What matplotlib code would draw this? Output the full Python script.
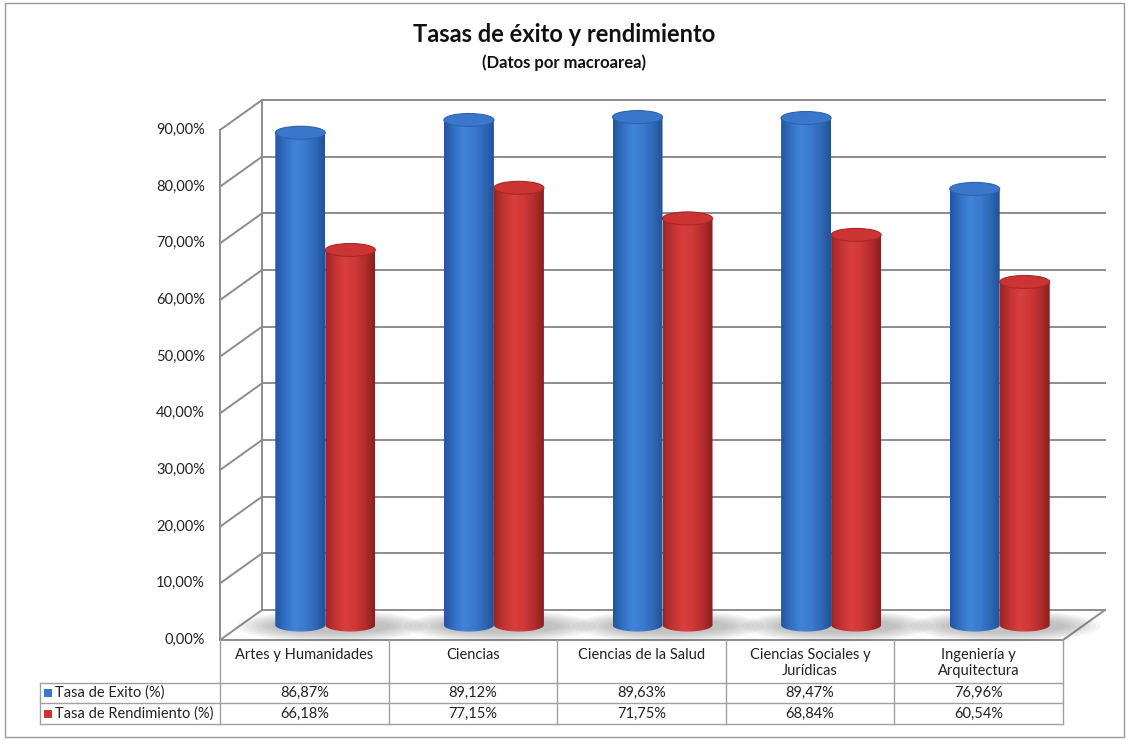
import numpy as np
import matplotlib
matplotlib.use("Agg")
import matplotlib.pyplot as plt
from matplotlib.patches import Polygon, Ellipse, Rectangle
from matplotlib.colors import LinearSegmentedColormap

plt.rcParams['font.family'] = ['Lato', 'DejaVu Sans']

# datos
categorias = ["Artes y Humanidades", "Ciencias", "Ciencias de la Salud",
              "Ciencias Sociales y\nJurídicas", "Ingeniería y\nArquitectura"]
tasa_exito = [86.87, 89.12, 89.63, 89.47, 76.96]
tasa_rendimiento = [66.18, 77.15, 71.75, 68.84, 60.54]
series = ["Tasa de Exito (%)", "Tasa de Rendimiento (%)"]
yticks = list(range(0, 100, 10))

# escala: pixeles por unidad de datos
PX_X = 843 / 5.0
PX_Y = 510 / 90.0
X0, Y0 = 220, 640          # origen frontal en pixeles
DX, DY = 42 / PX_X, 30 / PX_Y   # profundidad 3D
W = 50 / PX_X              # ancho del cilindro
EH = 13 / PX_Y             # alto de la elipse


def xd(px):
    return (px - X0) / PX_X


def yd(px):
    return (Y0 - px) / PX_Y


def pct(v):
    return f"{v:.2f}".replace(".", ",") + "%"


fig = plt.figure(figsize=(11.29, 7.40), dpi=100)
ax = fig.add_axes([0, 0, 1, 1])
ax.set_axis_off()

grid_c = "#8c8c8c"
# pared lateral y fondo
top = yticks[-1]
ax.plot([0, 0], [0, top], color=grid_c, lw=1.4, zorder=1)
ax.plot([DX, DX], [DY, top + DY], color=grid_c, lw=1.4, zorder=1)
for t in yticks:
    ax.plot([0, DX], [t, t + DY], color=grid_c, lw=1.4, zorder=1)
    ax.plot([DX, len(categorias) + DX], [t + DY, t + DY], color=grid_c, lw=1.4, zorder=1)
    ax.text(xd(205), t, pct(t), ha="right", va="center", fontsize=10.5, color="#222222")
# suelo
n = len(categorias)
ax.plot([n, n + DX], [0, DY], color=grid_c, lw=1.4, zorder=1)

cmap_b = LinearSegmentedColormap.from_list("b", ["#2453a0", "#3270c3", "#4084d8", "#3b7acd",
                                                 "#3069b8", "#22509a"])
cmap_r = LinearSegmentedColormap.from_list("r", ["#9a2424", "#c33232", "#d8403f", "#cf3838",
                                                 "#b42d2d", "#8a1f1f"])
grad = np.linspace(0, 1, 256).reshape(1, -1)


def sombra(xc, base):
    for k in range(8):
        f = 1 - k / 8
        ax.add_patch(Ellipse((xc + 6 / PX_X, base - 1 / PX_Y), (2.2 * W) + f * 80 / PX_X,
                             (12 + f * 20) / PX_Y, facecolor="#555555", alpha=0.05,
                             edgecolor="none", zorder=2))


def cilindro(xc, h, base, cmap, top_c, edge_c, z):
    ry = EH / 2
    th = np.linspace(np.pi, 2 * np.pi, 60)
    bx = xc + W / 2 * np.cos(th)
    by = base + ry * np.sin(th)
    verts = list(zip(bx, by)) + [(xc + W / 2, base + h), (xc - W / 2, base + h)]
    poly = Polygon(verts, closed=True, facecolor="none", edgecolor="none", zorder=z)
    ax.add_patch(poly)
    im = ax.imshow(grad, cmap=cmap, extent=[xc - W / 2, xc + W / 2, base - ry, base + h],
                   aspect="auto", zorder=z, interpolation="bilinear")
    im.set_clip_path(poly)
    ax.add_patch(Ellipse((xc, base + h), W, EH, facecolor=top_c, edgecolor=edge_c,
                         lw=0.8, zorder=z + 0.1))


base = DY / 2
for i in range(n):
    cx = i + 0.5 + DX / 2
    sombra(cx, base)
    cilindro(cx - W / 2, tasa_exito[i], base, cmap_b, "#3a77cb", "#2d62b0", 3 + i * 0.5)
    cilindro(cx + W / 2, tasa_rendimiento[i], base, cmap_r, "#cc3434", "#a82828", 3.2 + i * 0.5)

# tabla de datos
tab_c = "#a0a0a0"
rows_px = [640, 683, 703, 724]
ax.plot([0, n], [yd(rows_px[0])] * 2, color=grid_c, lw=1.4, zorder=1)
for r in rows_px[1:]:
    ax.plot([xd(40), n], [yd(r)] * 2, color=tab_c, lw=1, zorder=1)
for c in range(n + 1):
    ax.plot([c, c], [yd(640), yd(724)], color=tab_c, lw=1, zorder=1)
ax.plot([xd(40), xd(40)], [yd(683), yd(724)], color=tab_c, lw=1, zorder=1)

for i, cat in enumerate(categorias):
    ax.text(i + 0.5, yd(648), cat, ha="center", va="top", fontsize=10.5, color="#222222",
            linespacing=1.15)
    ax.text(i + 0.5, yd(693), pct(tasa_exito[i]), ha="center", va="center", fontsize=10.5,
            color="#222222")
    ax.text(i + 0.5, yd(714), pct(tasa_rendimiento[i]), ha="center", va="center",
            fontsize=10.5, color="#222222")

for j, (name, col) in enumerate(zip(series, ["#3a78cf", "#cc3333"])):
    yc = [693, 714][j]
    ax.add_patch(Rectangle((xd(44), yd(yc + 4)), 8 / PX_X, 8 / PX_Y, facecolor=col,
                           edgecolor="none", zorder=2))
    ax.text(xd(55), yd(yc), name, ha="left", va="center", fontsize=10.5, color="#222222")

ax.set_xlim(xd(0), xd(1129))
ax.set_ylim(yd(740), yd(0))

# borde y titulos
fig.add_artist(Rectangle((5 / 1129, 3 / 740), 1119 / 1129, 734 / 740, transform=fig.transFigure,
                         facecolor="none", edgecolor="#9a9a9a", lw=1))
fig.text(0.5, 1 - 35 / 740, "Tasas de éxito y rendimiento", ha="center", va="center",
         fontsize=17, fontweight="bold", color="#111111")
fig.text(0.5, 1 - 63 / 740, "(Datos por macroarea)", ha="center", va="center",
         fontsize=12, fontweight="bold", color="#111111")

fig.savefig("out.png", dpi=100)
